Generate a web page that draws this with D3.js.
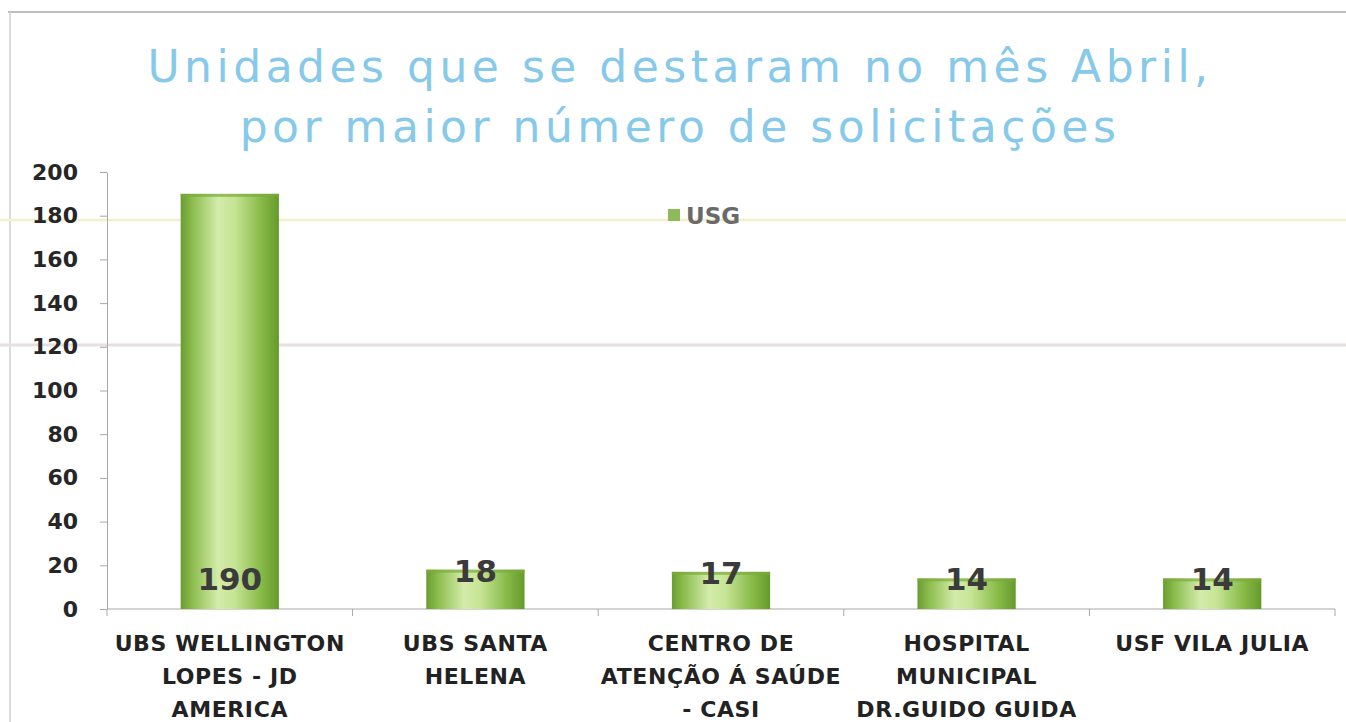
<!DOCTYPE html>
<html><head><meta charset="utf-8">
<script src="https://cdn.jsdelivr.net/npm/d3@7"></script>
<style>
html,body{margin:0;padding:0;background:#fff;}
svg{display:block;}
</style></head>
<body>
<svg id="chart" width="1346" height="722"></svg>
<script>
const categories = [
  ["UBS WELLINGTON","LOPES - JD","AMERICA"],
  ["UBS SANTA","HELENA"],
  ["CENTRO DE","ATENÇÃO Á SAÚDE","- CASI"],
  ["HOSPITAL","MUNICIPAL","DR.GUIDO GUIDA"],
  ["USF VILA JULIA"]
];
const values = [190, 18, 17, 14, 14];
const seriesName = "USG";
const yTicks = [0,20,40,60,80,100,120,140,160,180,200];
const titleLines = ["Unidades  que se destaram no mês Abril,", "por  maior número de solicitações"];

const svg = d3.select("#chart");
const font = "'DejaVu Sans',sans-serif";

// frame
svg.append("line").attr("x1",8).attr("x2",1346).attr("y1",12).attr("y2",12).attr("stroke","#bdbdbd").attr("stroke-width",2);
svg.append("line").attr("x1",10).attr("x2",10).attr("y1",12).attr("y2",722).attr("stroke","#cfcfcf").attr("stroke-width",1.5);

const margin = {left:107, right:1335, top:172, bottom:609};
const x = d3.scaleBand().domain(d3.range(values.length)).range([margin.left, margin.right]).paddingInner(0).paddingOuter(0);
const y = d3.scaleLinear().domain([0,200]).range([margin.bottom, margin.top]);

const defs = svg.append("defs");
const g = defs.append("linearGradient").attr("id","barGrad").attr("x1","0%").attr("x2","100%").attr("y1","0%").attr("y2","0%");
[["0%","#6a9c30"],["12%","#8cbd4e"],["38%","#d3ecaa"],["55%","#c6e495"],["82%","#88ba48"],["100%","#659a2b"]].forEach(s=>g.append("stop").attr("offset",s[0]).attr("stop-color",s[1]));

// scan artifact lines
svg.append("line").attr("x1",0).attr("x2",1346).attr("y1",220).attr("y2",220).attr("stroke","#f3efc8").attr("stroke-width",2.5);
svg.append("line").attr("x1",0).attr("x2",1346).attr("y1",345).attr("y2",345).attr("stroke","#e8e0e0").attr("stroke-width",3);

// y axis
const yAxis = d3.axisLeft(y).tickValues(yTicks).tickSize(7).tickPadding(22).tickSizeOuter(0);
const ya = svg.append("g").attr("transform",`translate(${margin.left},0)`).call(yAxis);
ya.select(".domain").attr("stroke","#a8a8a8");
ya.selectAll(".tick line").attr("stroke","#a8a8a8");
ya.selectAll("text").attr("font-family",font).attr("font-weight","bold").attr("font-size",22).attr("fill","#262626");

// x axis
const xa = svg.append("g").attr("transform",`translate(0,${margin.bottom})`);
xa.append("line").attr("x1",margin.left).attr("x2",margin.right).attr("stroke","#a8a8a8");
const bounds = d3.range(values.length+1).map(i => i<values.length ? x(i) : x(values.length-1)+x.bandwidth());
xa.selectAll(".tk").data(bounds).join("line").attr("x1",d=>d).attr("x2",d=>d).attr("y1",0).attr("y2",7).attr("stroke","#a8a8a8");

// bars
const bw = x.bandwidth()*0.4;
svg.selectAll(".bar").data(values).join("rect")
  .attr("x",(d,i)=>x(i)+x.bandwidth()/2-bw/2)
  .attr("y",d=>y(d))
  .attr("width",bw)
  .attr("height",d=>y(0)-y(d))
  .attr("fill","url(#barGrad)");
svg.selectAll(".bartop").data(values).join("rect")
  .attr("x",(d,i)=>x(i)+x.bandwidth()/2-bw/2)
  .attr("y",d=>y(d))
  .attr("width",bw).attr("height",3)
  .attr("fill","#7aab3c").attr("opacity",0.7);

// data labels
svg.selectAll(".lbl").data(values).join("text")
  .attr("x",(d,i)=>x(i)+x.bandwidth()/2)
  .attr("y",d=> d>50 ? y(0)-19 : y(d)+12)
  .attr("text-anchor","middle")
  .attr("font-family",font).attr("font-weight","bold").attr("font-size",31)
  .attr("fill","#3b3b3b")
  .text(d=>d);

// category labels
categories.forEach((lines,i)=>{
  const t = svg.append("text").attr("text-anchor","middle")
    .attr("font-family",font).attr("font-weight","bold").attr("font-size",22).attr("fill","#222")
    .attr("letter-spacing",0.6);
  lines.forEach((ln,j)=>{
    t.append("tspan").attr("x",x(i)+x.bandwidth()/2).attr("y",651+j*33).text(ln);
  });
});

// title
titleLines.forEach((ln,j)=>{
  svg.append("text").attr("x",680).attr("y",82+j*60).attr("text-anchor","middle")
    .attr("font-family",font).attr("font-size",44).attr("letter-spacing",4.5).attr("fill","#86c9ea").text(ln);
});

// legend
svg.append("rect").attr("x",668).attr("y",209).attr("width",12).attr("height",12).attr("fill","#8fba5c");
svg.append("text").attr("x",686).attr("y",224).attr("font-family",font).attr("font-weight","bold")
  .attr("font-size",23).attr("fill","#6a6a6a").text(seriesName);
</script>
</body></html>
